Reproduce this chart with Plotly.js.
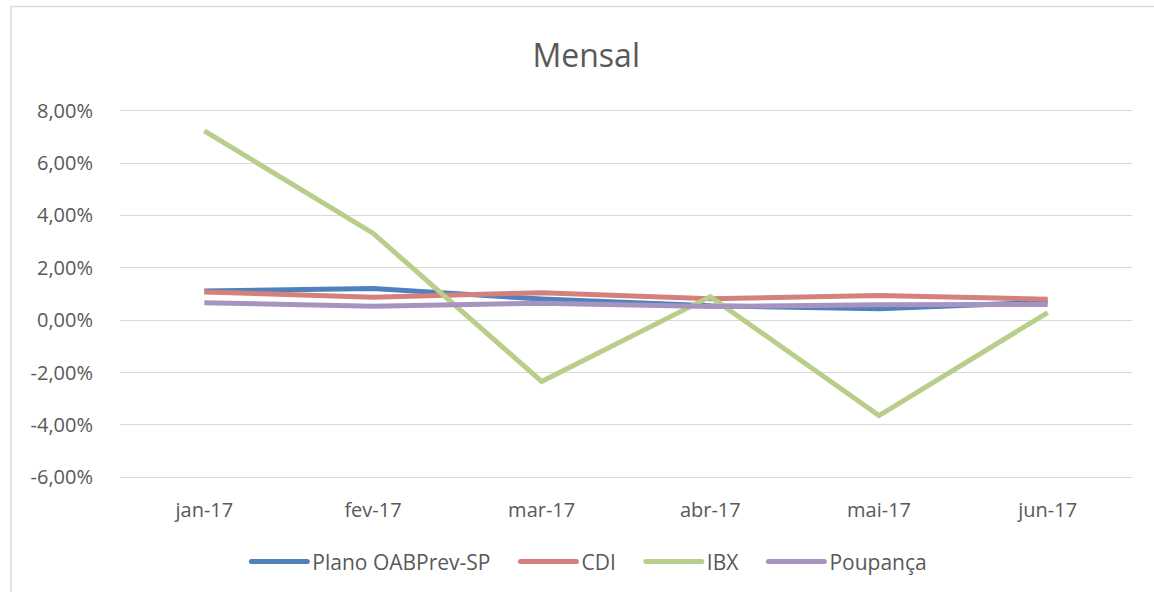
<!DOCTYPE html>
<html><head><meta charset="utf-8">
<script src="https://cdn.plot.ly/plotly-3.0.1.min.js"></script>
<style>html,body{margin:0;padding:0;background:#fff}#chart{width:1154px;height:592px}</style>
</head><body><div id="chart"></div>
<script>
const categories = ["jan-17","fev-17","mar-17","abr-17","mai-17","jun-17"];
const planoOAB = [1.11, 1.21, 0.81, 0.55, 0.44, 0.69];
const cdi      = [1.08, 0.88, 1.05, 0.82, 0.94, 0.80];
const ibx      = [7.23, 3.32, -2.34, 0.90, -3.64, 0.29];
const poupanca = [0.67, 0.53, 0.65, 0.52, 0.59, 0.60];
const seriesNames = ["Plano OABPrev-SP","CDI","IBX","Poupança"];
const colors = ["#4F81BD","#D4807D","#B9CE8B","#A693C0"];
const tickVals = [-6,-4,-2,0,2,4,6,8];
const tickText = ["-6,00%","-4,00%","-2,00%","0,00%","2,00%","4,00%","6,00%","8,00%"];

const data = [planoOAB, cdi, ibx, poupanca].map((vals,i)=>({
  x: categories, y: vals, type:'scatter', mode:'lines', name: seriesNames[i],
  line:{color:colors[i], width:5}
}));

const font = "'Open Sans', sans-serif";
const layout = {
  width:1154, height:592,
  margin:{l:120, r:22, t:108, b:112},
  paper_bgcolor:'#fff', plot_bgcolor:'#fff',
  font:{family:font, color:'#595959', size:20},
  title:{text:'Mensal', font:{size:32, color:'#595959', family:font}, x:0.508, xref:'container', xanchor:'center', y:0.905, yref:'container', yanchor:'middle'},
  xaxis:{type:'category', range:[-0.5,5.5], showgrid:false, zeroline:false, showline:false,
         ticks:'outside', ticklen:12, tickcolor:'rgba(0,0,0,0)', tickfont:{size:20}},
  yaxis:{range:[-6.1,8.1], tickvals:tickVals, ticktext:tickText, gridcolor:'#D9D9D9', gridwidth:1,
         zeroline:false, showline:false, ticks:'outside', ticklen:22, tickcolor:'rgba(0,0,0,0)', tickfont:{size:20}},
  showlegend:true,
  legend:{orientation:'h', xref:'container', yref:'container', x:0.51, xanchor:'center', y:0.051, yanchor:'middle',
          font:{size:21, color:'#595959'}, itemwidth:30},
  shapes:[{type:'rect', xref:'paper', yref:'paper', x0:-0.1077, x1:1.05, y0:-0.4, y1:1.273,
           line:{color:'#D9D9D9', width:1.5}, fillcolor:'rgba(0,0,0,0)', layer:'below'}]
};
Plotly.newPlot('chart', data, layout, {displayModeBar:false, staticPlot:true}).then(function(){
  // restyle legend entries: longer line samples and wider spacing, as in the reference
  const leg = document.querySelector('.legend');
  if(!leg) return;
  leg.removeAttribute('clip-path');
  leg.querySelectorAll('[clip-path]').forEach(el => el.removeAttribute('clip-path'));
  const m = /translate\(([-\d.]+)[ ,]+([-\d.]+)\)/.exec(leg.getAttribute('transform')||'');
  const lx = m ? parseFloat(m[1]) : 0;
  const groups = Array.from(leg.querySelectorAll('.traces'));
  const LINE = 56, GAP = 5, SEP = 30, CENTER = 589;
  const tw = groups.map(g => { const t = g.querySelector('.legendtext'); return t ? t.getComputedTextLength() : 0; });
  const total = tw.reduce((a,w)=>a+LINE+GAP+w,0) + SEP*(groups.length-1);
  let x = CENTER - total/2;
  groups.forEach((g,i)=>{
    const tm = /translate\(([-\d.]+)[ ,]+([-\d.]+)\)/.exec(g.getAttribute('transform')||'');
    const ty = tm ? parseFloat(tm[2]) : 0;
    g.setAttribute('transform', 'translate(' + (x - lx) + ',' + ty + ')');
    g.querySelectorAll('.legendlines path').forEach(p => { p.setAttribute('d', 'M0,0h' + LINE); p.style.strokeLinecap='round'; });
    const t = g.querySelector('.legendtext');
    if(t){ t.setAttribute('x', LINE + GAP); t.querySelectorAll('tspan[x]').forEach(s=>s.setAttribute('x', LINE+GAP)); }
    x += LINE + GAP + tw[i] + SEP;
  });
});
</script></body></html>
